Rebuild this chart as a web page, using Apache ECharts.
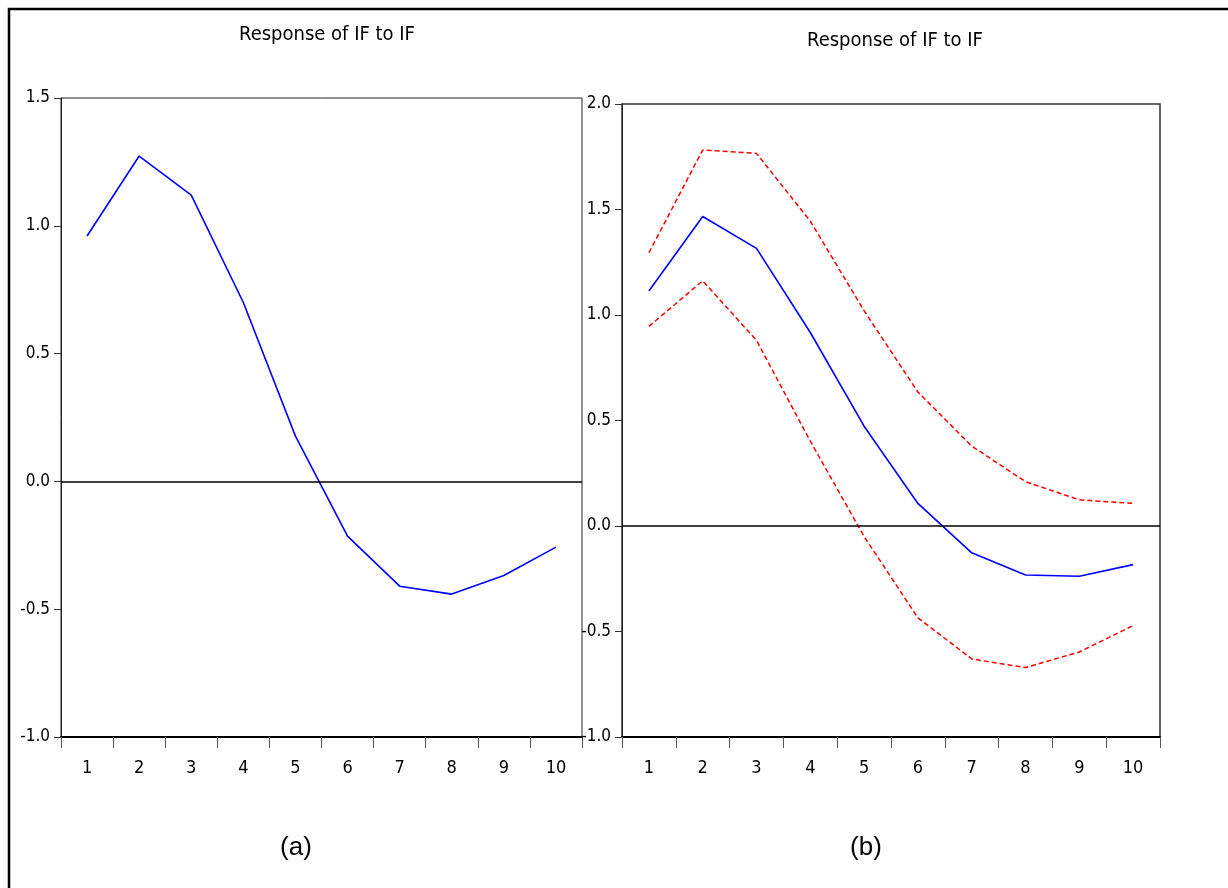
<!DOCTYPE html>
<html>
<head>
<meta charset="utf-8">
<script src="https://cdn.jsdelivr.net/npm/echarts@6/dist/echarts.min.js"></script>
<style>
html,body{margin:0;padding:0;background:#fff;}
#chart{width:1228px;height:888px;}
</style>
</head>
<body>
<div id="chart"></div>
<script>
// ---- data ----
const categories = ['1','2','3','4','5','6','7','8','9','10'];
const responseA = [0.96, 1.273, 1.12, 0.70, 0.177, -0.214, -0.41, -0.441, -0.368, -0.257];
const responseB = [1.114, 1.467, 1.316, 0.917, 0.473, 0.107, -0.127, -0.232, -0.238, -0.183];
const upperB = [1.295, 1.782, 1.766, 1.445, 1.02, 0.635, 0.379, 0.21, 0.124, 0.107];
const lowerB = [0.946, 1.162, 0.88, 0.402, -0.05, -0.435, -0.63, -0.671, -0.597, -0.472];
const titleText = 'Response of IF to IF';
const panelLabels = ['(a)', '(b)'];

const narrow = "'Liberation Sans Narrow','Arial Narrow','DejaVu Sans Condensed','Liberation Sans',sans-serif";
const regular = "'Liberation Sans',Arial,sans-serif";

function xAxisFor(gridIndex){
  return {
    type:'category', gridIndex, data:categories, boundaryGap:true,
    axisLine:{show:true, onZero:false, lineStyle:{color:'#000', width:2}},
    axisTick:{show:true, inside:false, length:11, alignWithLabel:false, lineStyle:{color:'#555', width:1}},
    axisLabel:{color:'#000', fontFamily:narrow, fontSize:18, margin:22},
    splitLine:{show:false}
  };
}
function yAxisFor(gridIndex, min, max){
  return {
    type:'value', gridIndex, min, max, interval:0.5,
    axisLine:{show:true, lineStyle:{color:'#222', width:1}},
    axisTick:{show:true, inside:false, length:7, lineStyle:{color:'#333', width:1}},
    axisLabel:{color:'#000', fontFamily:narrow, fontSize:17, margin:11,
      formatter:v=>v.toFixed(1)},
    splitLine:{show:false}
  };
}
const zeroLine = {
  silent:true, symbol:'none', label:{show:false},
  lineStyle:{color:'#000', type:'solid', width:1.5},
  data:[{yAxis:0}]
};

const chart = echarts.init(document.getElementById('chart'));
chart.setOption({
  animation:false,
  backgroundColor:'#fff',
  title:[
    {text:titleText, left:322, top:20, textAlign:'center',
     textStyle:{fontFamily:narrow, fontSize:20, fontWeight:'normal', color:'#000'}},
    {text:titleText, left:890, top:26, textAlign:'center',
     textStyle:{fontFamily:narrow, fontSize:20, fontWeight:'normal', color:'#000'}},
    {text:panelLabels[0], left:291, top:830, textAlign:'center',
     textStyle:{fontFamily:regular, fontSize:26, fontWeight:'normal', color:'#000'}},
    {text:panelLabels[1], left:861, top:830, textAlign:'center',
     textStyle:{fontFamily:regular, fontSize:26, fontWeight:'normal', color:'#000'}}
  ],
  graphic:[
    {type:'rect', shape:{x:9, y:9, width:1260, height:920}, z:-1,
     style:{fill:'none', stroke:'#000', lineWidth:2.5}}
  ],
  grid:[
    {left:61, right:646, top:98, bottom:151, show:true, borderColor:'#222', borderWidth:1, backgroundColor:'transparent'},
    {left:622, right:68, top:104, bottom:151, show:true, borderColor:'#333', borderWidth:1.5, backgroundColor:'transparent'}
  ],
  xAxis:[xAxisFor(0), xAxisFor(1)],
  yAxis:[yAxisFor(0,-1,1.5), yAxisFor(1,-1,2)],
  series:[
    {name:'A', type:'line', xAxisIndex:0, yAxisIndex:0, data:responseA,
     symbol:'none', lineStyle:{color:'#0000ff', width:1.6}, markLine:zeroLine},
    {name:'B', type:'line', xAxisIndex:1, yAxisIndex:1, data:responseB,
     symbol:'none', lineStyle:{color:'#0000ff', width:1.6}, markLine:zeroLine},
    {name:'B upper', type:'line', xAxisIndex:1, yAxisIndex:1, data:upperB,
     symbol:'none', lineStyle:{color:'#ff0000', width:1.5, type:[5,3]}},
    {name:'B lower', type:'line', xAxisIndex:1, yAxisIndex:1, data:lowerB,
     symbol:'none', lineStyle:{color:'#ff0000', width:1.5, type:[5,3]}}
  ]
});
</script>
</body>
</html>
